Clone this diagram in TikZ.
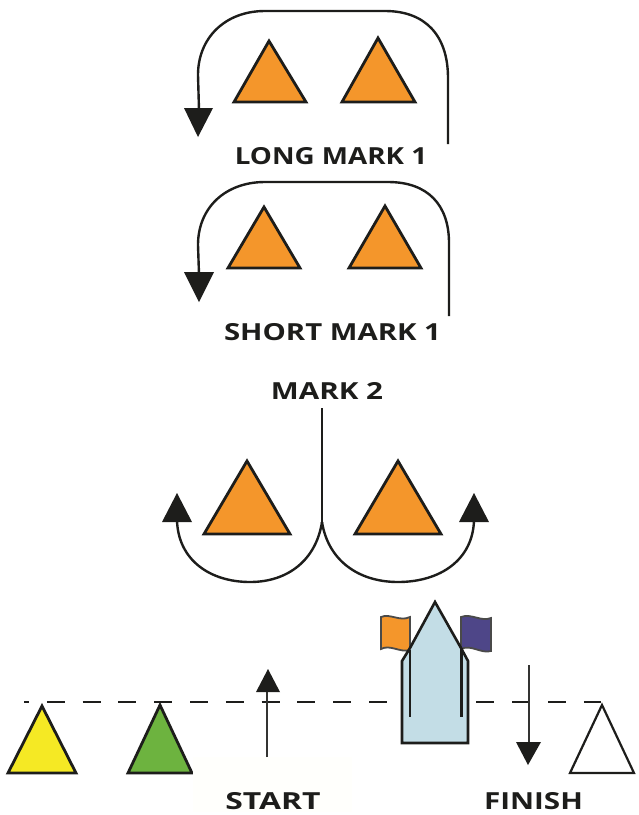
\documentclass[tikz,border=0pt]{standalone}
\usepackage{fontspec}
\setmainfont[FakeStretch=1.2]{Open Sans}
\definecolor{ink}{HTML}{1D1D1B}
\definecolor{markorange}{HTML}{F4962B}
\definecolor{markyellow}{HTML}{F5E924}
\definecolor{markgreen}{HTML}{6DB33F}
\definecolor{boatblue}{HTML}{C3DDE6}
\definecolor{flagblue}{HTML}{4E4688}
\tikzset{
  buoy/.style={draw=ink,line width=2.8pt,line join=miter,miter limit=10},
  course/.style={draw=ink,line width=2.4pt},
  heada/.style={fill=ink,draw=none},
  lab/.style={font=\bfseries\fontsize{23.5}{25}\selectfont,text=ink,inner sep=0pt,anchor=center},
  flag/.style={draw=ink!80,line width=1.8pt},
}
\begin{document}
\begin{tikzpicture}[x=1pt,y=-1pt]
\useasboundingbox (0,0) rectangle (639,815);
% start / finish line
\draw[ink,line width=2.8pt,dash pattern=on 17.9pt off 17.9pt,dash phase=13pt] (24,702) -- (601,702);
% long mark 1
\draw[course] (448,144) -- (448,78) .. controls (448,35) and (425,11) .. (385,11) -- (265,11) .. controls (225,11) and (198,38) .. (198,75) -- (199,110);
\fill[heada] (184,108) -- (213,108) -- (198,137) -- cycle;
\draw[buoy,fill=markorange] (269,41) -- (306,102) -- (234,102) -- cycle;
\draw[buoy,fill=markorange] (378,38) -- (415,102) -- (342,102) -- cycle;
\node[lab] (longlabel) at (331,156) {\scalebox{0.985}[1]{LONG MARK 1}};
% short mark 1
\draw[course] (449,316) -- (449,243) .. controls (449,205) and (428,182) .. (388,182) -- (265,182) .. controls (225,182) and (198,208) .. (198,245) -- (199,274);
\fill[heada] (184,272) -- (214,272) -- (199,302) -- cycle;
\draw[buoy,fill=markorange] (264,207) -- (300,268) -- (228,268) -- cycle;
\draw[buoy,fill=markorange] (385,206) -- (421,268) -- (349,268) -- cycle;
\node[lab] (shortlabel) at (332.5,332) {\scalebox{1.04}[1]{SHORT MARK 1}};
% mark 2
\node[lab] (marklabel) at (327,391) {\scalebox{1.05}[1]{MARK 2}};
\draw[buoy,fill=markorange] (247,461) -- (290,534) -- (204,534) -- cycle;
\draw[buoy,fill=markorange] (398,461) -- (441,534) -- (355,534) -- cycle;
\draw[course] (322,408) -- (322,522);
\draw[course] (322,522) .. controls (316,560) and (288,582) .. (250,582) .. controls (210,582) and (178,560) .. (177,520);
\draw[course] (322,522) .. controls (328,560) and (358,582) .. (398,582) .. controls (440,582) and (473,560) .. (474,520);
\fill[heada] (162,522) -- (192,522) -- (177,493) -- cycle;
\fill[heada] (459,522) -- (489,522) -- (474,493) -- cycle;
% start and finish marks
\draw[buoy,fill=markyellow] (42,706) -- (76,773) -- (8,773) -- cycle;
\draw[buoy,fill=markgreen] (160,705) -- (192,773) -- (128,773) -- cycle;
\draw[ink,line width=2.2pt,fill=white] (602,705) -- (634,773) -- (570,773) -- cycle;
\fill[white!99!yellow] (193,757) rectangle (352,812);
% start arrow
\draw[ink!90,line width=2pt] (267,757) -- (267,690);
\fill[heada] (256,692) -- (280,692) -- (268,669) -- cycle;
% finish arrow
\draw[ink!90,line width=2pt] (529,665) -- (529,744);
\fill[heada] (516,742) -- (541,742) -- (528,765) -- cycle;
% boat
\draw[flag,fill=markorange] (381,617) .. controls (390,613) and (400,622) .. (410,617) -- (410,650) .. controls (400,653) and (390,644) .. (381,649) -- cycle;
\draw[flag,fill=flagblue] (461,617) .. controls (471,613) and (481,622) .. (491,618) -- (491,651) .. controls (481,654) and (471,644) .. (461,649) -- cycle;
\draw[ink,line width=2.6pt,fill=boatblue] (435,602) -- (461,648) -- (468,661) -- (468,743) -- (402,743) -- (402,661) -- (410,648) -- cycle;
\draw[ink,line width=2.2pt] (410,650) -- (410,717);
\draw[ink,line width=2.2pt] (461.5,648) -- (461.5,717);
\node[lab] (startlabel) at (273,801) {\scalebox{1.13}[1]{START}};
\node[lab] (finishlabel) at (533.5,801) {\scalebox{1.05}[1]{FINISH}};
\end{tikzpicture}
\end{document}
